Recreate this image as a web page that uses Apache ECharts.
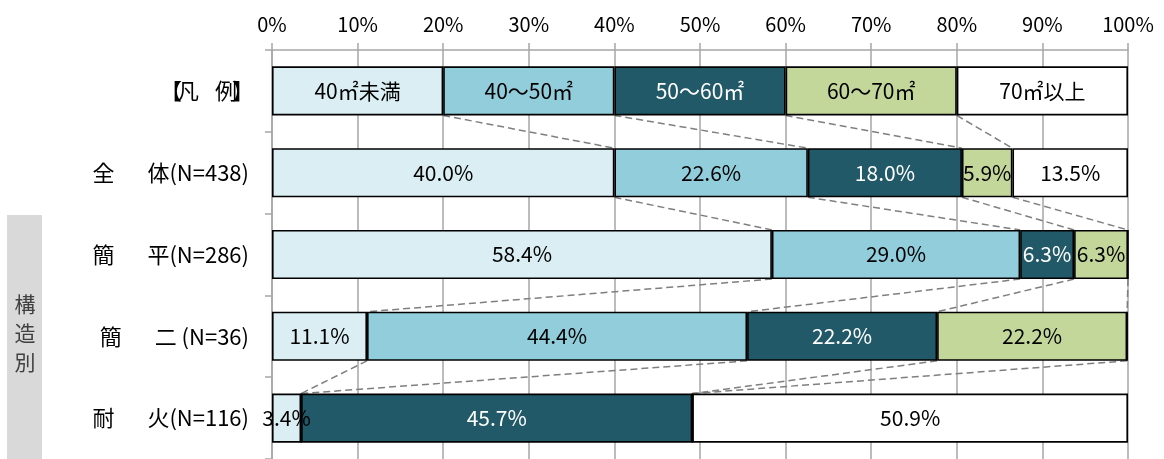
<!DOCTYPE html>
<html><head><meta charset="utf-8">
<script src="https://cdn.jsdelivr.net/npm/echarts@6/dist/echarts.min.js"></script>
<style>html,body{margin:0;padding:0;background:#fff}#c{width:1164px;height:459px}</style>
</head><body><div id="c"></div>
<script>
const categories = ['【凡　例】', '全　　体(N=438)', '簡　　平(N=286)', '簡　　二 (N=36)', '耐　　火(N=116)'];
const bands = ['40㎡未満', '40～50㎡', '50～60㎡', '60～70㎡', '70㎡以上'];
const legendRow = [20, 20, 20, 20, 20];
const zentai = [40.0, 22.6, 18.0, 5.9, 13.5];
const kanpei = [58.4, 29.0, 6.3, 6.3, 0];
const kanni = [11.1, 44.4, 22.2, 22.2, 0];
const taika = [3.4, 0, 45.7, 0, 50.9];
const tickLabels = ['0%','10%','20%','30%','40%','50%','60%','70%','80%','90%','100%'];
const sideTitle = '構造別';

const colors = ['#DAEEF3', '#92CDDC', '#215968', '#C4D79B', '#FFFFFF'];
const labelColors = ['#000', '#000', '#fff', '#000', '#000'];
const FONT = 'Noto Sans CJK JP';

const rows = [legendRow, zentai, kanpei, kanni, taika];

const cums = rows.map(r => { let s = 0; return r.map(v => (s += v)); });
const connectors = [];
for (let i = 0; i < rows.length - 1; i++) {
  for (let k = 0; k < 4; k++) {
    connectors.push([cums[i][k], i, cums[i + 1][k], i + 1]);
  }
}

const series = bands.map((name, s) => ({
  name: name,
  type: 'bar',
  stack: 'all',
  barWidth: '60%',
  z: 3,
  itemStyle: { color: colors[s], borderColor: '#000', borderWidth: 1.6 },
  label: {
    show: true,
    position: 'inside',
    fontFamily: FONT,
    fontSize: 21,
    color: labelColors[s],
    formatter: p => p.dataIndex === 0 ? name : (p.value > 0 ? p.value.toFixed(1) + '%' : '')
  },
  data: rows.map(r => r[s])
}));

series.push({
  type: 'custom',
  z: 1,
  silent: true,
  encode: { x: [0, 2], y: [1, 3] },
  renderItem: (params, api) => {
    const half = api.size([0, 1])[1] * 0.3;
    const a = api.coord([api.value(0), api.value(1)]);
    const b = api.coord([api.value(2), api.value(3)]);
    return {
      type: 'line',
      shape: { x1: a[0], y1: a[1] + half, x2: b[0], y2: b[1] - half },
      style: { stroke: '#7F7F7F', lineWidth: 1.5, lineDash: [7, 4] }
    };
  },
  data: connectors
});

// rich formatting of category labels (spacing only; text unchanged)
function richLabel(str) {
  let out = '';
  const parts = str.split(/(　+|【|】)/).filter(x => x !== '');
  parts.forEach(p => {
    if (p === '【') out += '{lb|【}';
    else if (p === '】') out += '{rb|】}';
    else if (/^　+$/.test(p)) out += '{g' + p.length + '|' + p + '}';
    else out += '{t|' + p + '}';
  });
  return out;
}

const chart = echarts.init(document.getElementById('c'));
chart.setOption({
  animation: false,
  backgroundColor: '#fff',
  textStyle: { fontFamily: FONT },
  grid: { left: 272, right: 36, top: 50, bottom: -1, containLabel: false },
  xAxis: {
    type: 'value', min: 0, max: 100, interval: 10, position: 'top',
    axisLine: { show: true, lineStyle: { color: '#A6A6A6', width: 1.5 } },
    axisTick: { show: true, length: 7, lineStyle: { color: '#A6A6A6', width: 1.5 } },
    splitLine: { show: true, lineStyle: { color: '#A6A6A6', width: 1.5 } },
    axisLabel: { fontFamily: FONT, fontSize: 20, color: '#000', margin: 16,
      formatter: v => tickLabels[Math.round(v / 10)] }
  },
  yAxis: {
    type: 'category', inverse: true, data: categories,
    axisLine: { show: true, lineStyle: { color: '#A6A6A6', width: 1.5 } },
    axisTick: { show: true, length: 7, lineStyle: { color: '#A6A6A6', width: 1.5 } },
    axisLabel: {
      fontFamily: FONT, fontSize: 22, color: '#000', margin: 23,
      formatter: v => richLabel(v),
      rich: {
        t: { fontFamily: FONT, fontSize: 22, color: '#000' },
        g1: { fontFamily: FONT, fontSize: 16, width: 16, color: '#000' },
        g2: { fontFamily: FONT, fontSize: 16, width: 33, color: '#000' },
        lb: { fontFamily: FONT, fontSize: 22, width: 12, align: 'right', color: '#000' },
        rb: { fontFamily: FONT, fontSize: 22, width: 12, align: 'left', color: '#000' }
      }
    }
  },
  graphic: [
    { type: 'rect', left: 7, top: 215, shape: { width: 35, height: 250 }, style: { fill: '#D9D9D9' }, z: 0 },
    { type: 'text', x: 25, y: 333, style: { text: sideTitle.split('').join('\n'), fontFamily: FONT, fontSize: 21, lineHeight: 29, fill: '#404040', align: 'center', verticalAlign: 'middle' } }
  ],
  series: series
});
</script></body></html>
